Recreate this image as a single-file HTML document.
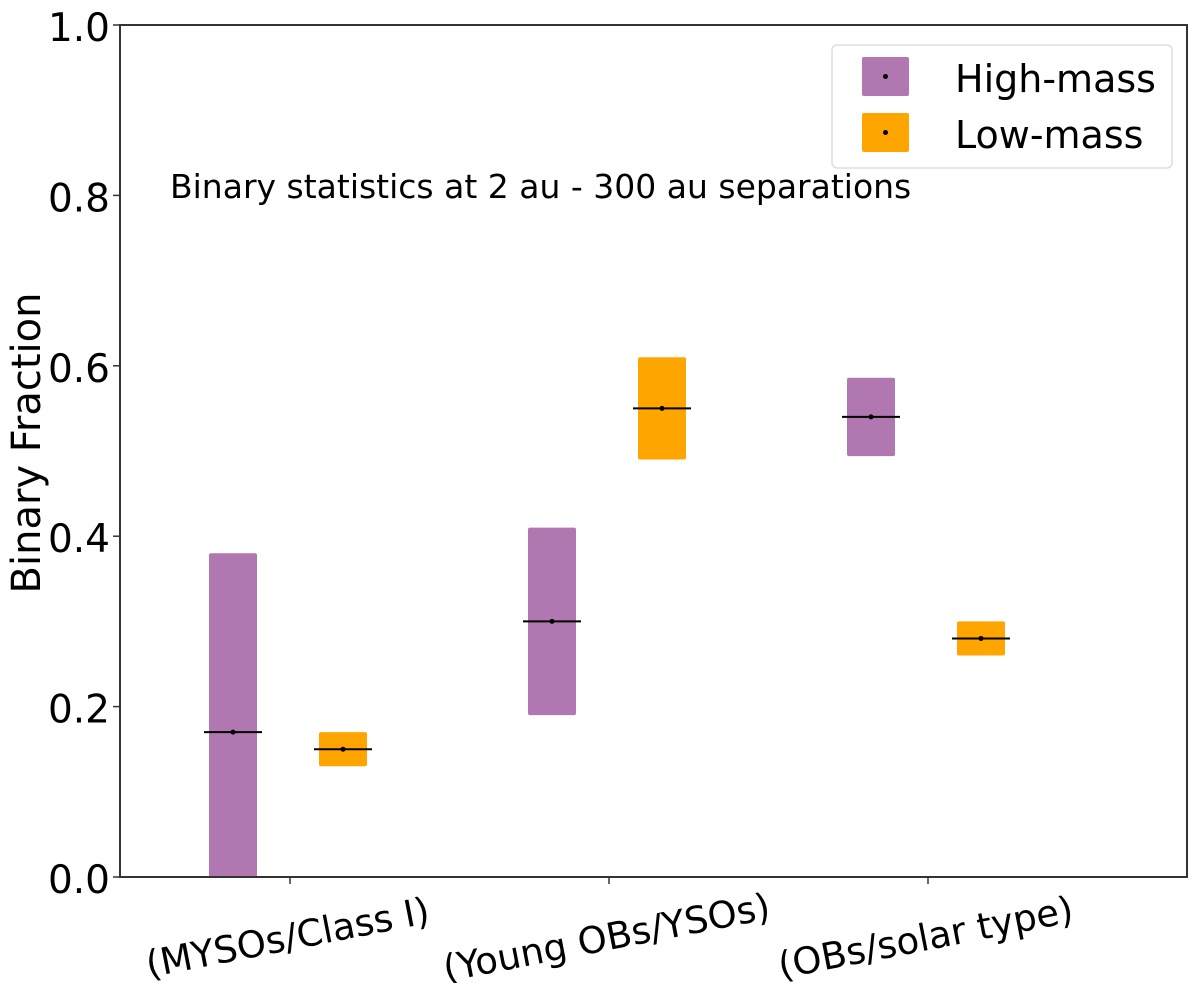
<!DOCTYPE html>
<html><head><meta charset="utf-8"><style>
body{margin:0;background:#fff}
svg text{font-family:"DejaVu Sans","Liberation Sans",sans-serif}
</style></head><body>
<svg id="chart" width="1200" height="983" xmlns="http://www.w3.org/2000/svg">
<g id="marks"></g>
<rect x="120" y="25" width="1067" height="852" fill="none" stroke="#333" stroke-width="2"/>
<g id="yaxis"></g>
<g id="xaxis"></g>
<text x="0" y="0" transform="translate(40,443) rotate(-90)" text-anchor="middle" font-size="40">Binary Fraction</text>
<text x="170" y="198" font-size="33">Binary statistics at 2 au - 300 au separations</text>
<g>
<rect x="832" y="45" width="340" height="123" rx="5" fill="#fff" stroke="#ddd" stroke-width="1.5"/>
<g>
<rect x="862" y="57" width="47" height="39" rx="2" fill="#b177b1"/>
<circle cx="885.5" cy="76.5" r="2.5" fill="#000"/>
<text x="955" y="92" font-size="38">High-mass</text></g>
<g>
<rect x="862" y="113" width="47" height="39" rx="2" fill="#ffa500"/>
<circle cx="885.5" cy="132.5" r="2.5" fill="#000"/>
<text x="955" y="148" font-size="38">Low-mass</text></g>
</g>
</svg>
<script>
const categories=["(MYSOs/Class I)","(Young OBs/YSOs)","(OBs/solar type)"];
const highLow=[0.0,0.19,0.494];
const highHigh=[0.38,0.41,0.586];
const highMed=[0.17,0.30,0.54];
const lowLow=[0.13,0.49,0.26];
const lowHigh=[0.17,0.61,0.30];
const lowMed=[0.15,0.55,0.28];
const yTicks=["0.0","0.2","0.4","0.6","0.8","1.0"];
const NS="http://www.w3.org/2000/svg";
const y=v=>877-v*852;
const xc=i=>290+i*319;
const marks=document.getElementById('marks'),ya=document.getElementById('yaxis'),xa=document.getElementById('xaxis');
function mk(t,a,p){const e=document.createElementNS(NS,t);for(const k in a)e.setAttribute(k,a[k]);p.appendChild(e);return e;}
yTicks.forEach(t=>{const v=parseFloat(t);
 const l=mk('line',{x1:113,x2:120,y1:y(v),y2:y(v),stroke:'#333','stroke-width':1.5},ya);
 
 
 const tx=mk('text',{x:110,y:y(v)+16,'text-anchor':'end','font-size':39},ya);tx.textContent=t;
 
 });
categories.forEach((c,i)=>{const x=xc(i);
 const l=mk('line',{x1:x,x2:x,y1:877,y2:884,stroke:'#333','stroke-width':1.5},xa);
 
 
 const tx=mk('text',{x:0,y:0,'text-anchor':'middle','font-size':37,transform:`translate(${x},950) rotate(-11)`},xa);tx.textContent=c;
 
 });
function bar(cx,lo,hi,med,col,name){
 const r=mk('rect',{x:cx-24,y:y(hi),width:48,height:y(lo)-y(hi),rx:2,fill:col},marks);
 
 
 const m=mk('line',{x1:cx-29,x2:cx+29,y1:y(med),y2:y(med),stroke:'#000','stroke-width':2},marks);
 
 
 const d=mk('circle',{cx:cx,cy:y(med),r:2.5,fill:'#000'},marks);
 
 }
categories.forEach((c,i)=>{
 bar(xc(i)-57,highLow[i],highHigh[i],highMed[i],'#b177b1','high-mass-bar-'+i);
 bar(xc(i)+53,lowLow[i],lowHigh[i],lowMed[i],'#ffa500','low-mass-bar-'+i);});
</script>
</body></html>
